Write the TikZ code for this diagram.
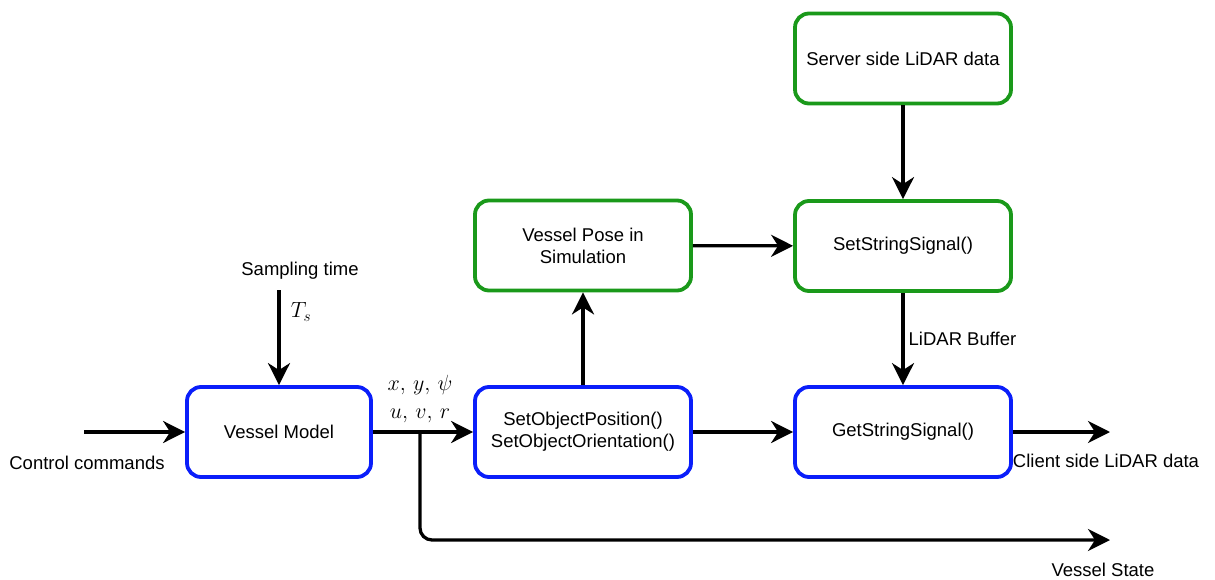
\documentclass[tikz,border=0pt]{standalone}
\usepackage{fix-cm}
\usepackage{fontspec}
\setmainfont{Liberation Sans}
\usetikzlibrary{arrows.meta,positioning,calc}

\definecolor{simgreen}{RGB}{26,153,26}
\definecolor{modelblue}{RGB}{10,30,250}

\begin{document}
\begin{tikzpicture}[
    x=1pt, y=-1pt,
    every node/.style={font=\fontsize{18.5}{22}\selectfont},
    mathlbl/.style={font=\fontsize{22}{26}\selectfont},
    block/.style={draw, rounded corners=14pt, line width=3.8pt, minimum width=216pt,
                  minimum height=90pt, align=center, fill=white},
    simblock/.style={block, draw=simgreen},
    ctrlblock/.style={block, draw=modelblue},
    flow/.style={-{Stealth[length=22pt, width=22pt, inset=7pt]}, line width=3.3pt}
]
    \useasboundingbox (0,0) rectangle (1215,580);

    % vessel model and CoppeliaSim side
    \node[ctrlblock, minimum width=184pt] (model) at (279,432) {Vessel Model};
    \node[ctrlblock] (setobj) at (583,432) {SetObjectPosition()\\SetObjectOrientation()};
    \node[simblock] (pose) at (583,245.5) {Vessel Pose in\\Simulation};

    % LiDAR exchange
    \node[simblock] (server) at (903,58.5) {Server side LiDAR data};
    \node[simblock] (setstr) at (903,246) {SetStringSignal()};
    \node[ctrlblock] (getstr) at (903,432) {GetStringSignal()};

    % inputs and outputs
    \coordinate (cmdin) at (84,432);
    \coordinate (tsin) at (279,290);
    \coordinate (split) at (420,432);
    \coordinate (lidarout) at (1110,432);
    \coordinate (stateout) at (1110,540);

    \node (cmdlbl) at (87,463) {Control commands};
    \node (tslbl) at (300,271) {Sampling time};
    \node[mathlbl] (ts) at (301,312) {$T_s$};
    \node[mathlbl] (pos) at (420,385) {$x,\,y,\,\psi$};
    \node[mathlbl] (vel) at (420,416) {$u,\,v,\,r$};
    \node (clientlbl) at (1106,461) {Client side LiDAR data};
    \node (statelbl) at (1103,570) {Vessel State};

    \draw[flow] (cmdin) -- (model);
    \draw[flow] (tsin) -- (model);
    \draw[flow] (model) -- (setobj);
    \draw[flow, rounded corners=12pt] (split) |- (stateout);
    \draw[flow] (setobj) -- (pose);
    \draw[flow] (pose) -- (setstr);
    \draw[flow] (setobj) -- (getstr);
    \draw[flow] (server) -- (setstr);
    \draw[flow] (setstr) -- node[right, inner sep=4pt] {LiDAR Buffer} (getstr);
    \draw[flow] (getstr) -- (lidarout);
\end{tikzpicture}
\end{document}
